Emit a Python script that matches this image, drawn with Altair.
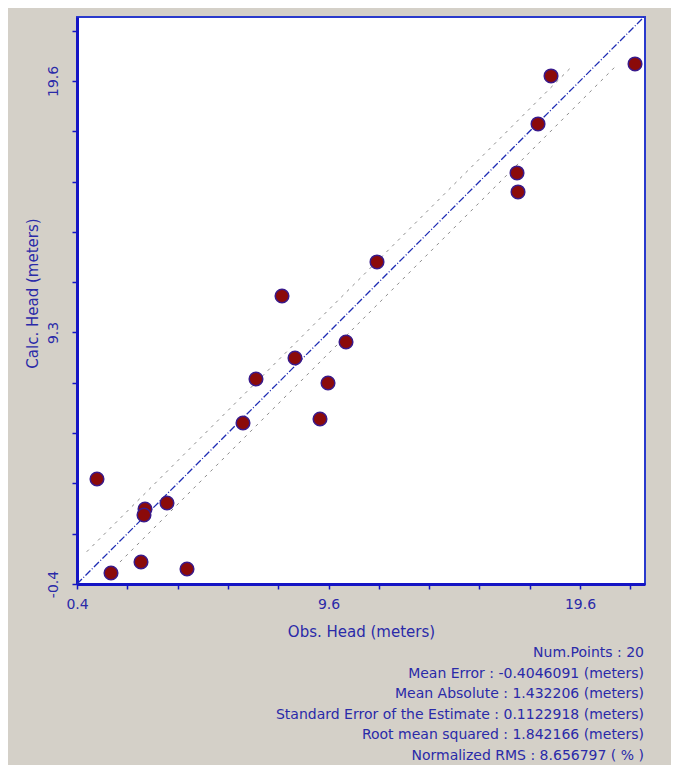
import json
import altair as alt
import pandas as pd

# ---- data (same unit on both axes, ticks every 1.92) ----
OBS = [1.163, 1.698, 2.843, 2.996, 2.957, 3.835, 4.599, 6.736, 7.232, 8.225,
       8.721, 9.675, 9.981, 10.668, 11.851, 17.195, 17.233, 17.997, 18.493, 21.699]
CALC = [4.408, 0.820, 1.240, 3.263, 3.034, 3.492, 0.973, 6.545, 8.225, 11.393,
        9.026, 6.698, 8.072, 9.637, 12.691, 16.088, 15.363, 17.958, 19.790, 20.248]

X_DOMAIN = [0.4, 22.08]
Y_DOMAIN = [0.4, 22.04]
TICK_START = 0.4
TICK_STEP = 1.92
X_TICK_LABELS = ["0.4", "", "", "", "", "9.6", "", "", "", "", "19.6", ""]
Y_TICK_LABELS = ["-0.4", "", "", "", "", "9.3", "", "", "", "", "19.6", ""]

ONE_TO_ONE_X = [0.4, 22.04]
UPPER_OFFSET = 0.86
UPPER_X = [0.77, 19.28]
LOWER_OFFSET = -0.80
LOWER_X = [2.04, 21.0]

STATS = [
    "Num.Points : 20",
    "Mean Error : -0.4046091 (meters)",
    "Mean Absolute : 1.432206 (meters)",
    "Standard Error of the Estimate : 0.1122918 (meters)",
    "Root mean squared : 1.842166 (meters)",
    "Normalized RMS : 8.656797 ( % )",
]

FONT = "DejaVu Sans"
AXIS_BLUE = "#1414c4"
TEXT_BLUE = "#2a2aa8"

W, H = 568, 567

x_ticks = [round(TICK_START + i * TICK_STEP, 3) for i in range(len(X_TICK_LABELS))]
y_ticks = [round(TICK_START + i * TICK_STEP, 3) for i in range(len(Y_TICK_LABELS))]
idx_expr = f"round((datum.value - {TICK_START}) / {TICK_STEP})"
x_label_expr = f"{json.dumps(X_TICK_LABELS)}[{idx_expr}]"
y_label_expr = f"{json.dumps(Y_TICK_LABELS)}[{idx_expr}]"

points = pd.DataFrame({"obs": OBS, "calc": CALC})

one_df = pd.DataFrame({"obs": ONE_TO_ONE_X, "calc": ONE_TO_ONE_X})
conf_df = pd.DataFrame({
    "obs": UPPER_X + LOWER_X,
    "calc": [v + UPPER_OFFSET for v in UPPER_X] + [v + LOWER_OFFSET for v in LOWER_X],
    "band": ["upper", "upper", "lower", "lower"],
})
stats_df = pd.DataFrame({"txt": ["\n".join(STATS)]})

x_scale = alt.Scale(domain=X_DOMAIN, nice=False, zero=False)
y_scale = alt.Scale(domain=Y_DOMAIN, nice=False, zero=False)

x_axis = alt.Axis(
    values=x_ticks, labelExpr=x_label_expr, title="Obs. Head (meters)",
    grid=False, domainColor=AXIS_BLUE, domainWidth=3, tickColor=AXIS_BLUE,
    tickWidth=1.5, tickSize=5, labelColor=TEXT_BLUE, labelFont=FONT,
    labelFontSize=14, labelPadding=8, labelFlush=False, labelOverlap=False,
    titleColor=TEXT_BLUE, titleFont=FONT, titleFontSize=15,
    titleFontWeight="normal", titleY=47, titleBaseline="middle",
)
y_axis = alt.Axis(
    values=y_ticks, labelExpr=y_label_expr, title="Calc. Head (meters)",
    grid=False, domainColor=AXIS_BLUE, domainWidth=3, tickColor=AXIS_BLUE,
    tickWidth=1.5, tickSize=5, labelColor=TEXT_BLUE, labelFont=FONT,
    labelFontSize=14, labelPadding=12, labelAngle=270, labelAlign="center",
    labelBaseline="bottom", labelFlush=False, labelOverlap=False,
    titleColor=TEXT_BLUE, titleFont=FONT, titleFontSize=15,
    titleFontWeight="normal", titleAngle=270, titleX=-45, titleY=276,
    titleAlign="center", titleBaseline="middle",
)

base_x = alt.X("obs:Q", scale=x_scale, axis=x_axis)
base_y = alt.Y("calc:Q", scale=y_scale, axis=y_axis)

conf = alt.Chart(conf_df).mark_line(
    color="#8c8c8c", strokeWidth=1, strokeDash=[3, 5]
).encode(x=base_x, y=base_y, detail="band:N")

one = alt.Chart(one_df).mark_line(
    color="#1e2cb4", strokeWidth=1.3, strokeDash=[7, 2, 1, 2]
).encode(x=base_x, y=base_y)

pts = alt.Chart(points).mark_point(
    shape="circle", filled=True, size=185, fill="#8b0a0a",
    stroke="#3a1a8a", strokeWidth=1.5, opacity=1
).encode(x=base_x, y=base_y)

stats = alt.Chart(stats_df).mark_text(
    align="right", baseline="top", lineBreak="\n", lineHeight=20.6,
    font=FONT, fontSize=14, color=TEXT_BLUE
).encode(x=alt.value(567), y=alt.value(629), text="txt:N")

chart = alt.layer(conf, one, pts, stats).properties(
    width=W, height=H,
    autosize=alt.AutoSizeParams(type="none"),
    padding={"left": 69, "top": 9, "right": 26, "bottom": 181},
    background="#d4d0c8",
).configure_view(stroke="#2a3acc", strokeWidth=2, fill="white")

chart.save("out.html", embed_options={"renderer": "svg", "actions": False})
